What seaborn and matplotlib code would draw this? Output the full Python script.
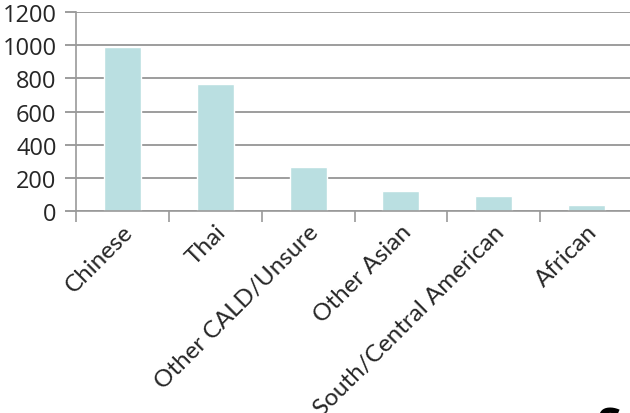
import numpy as np
import pandas as pd
import seaborn as sea
import matplotlib.pyplot as plt
from matplotlib.transforms import ScaledTranslation

categories = ['Chinese', 'Thai', 'Other CALD/Unsure', 'Other Asian',
              'South/Central American', 'African']
values = [990, 765, 265, 122, 90, 35]
y_ticks = [0, 200, 400, 600, 800, 1000, 1200]

df = pd.DataFrame({'group': categories, 'count': values})

sea.set_theme()
sea.set_style('white')
plt.rcParams['font.family'] = ['Open Sans', 'DejaVu Sans']

fig = plt.figure(figsize=(6.3, 4.14), dpi=100)
ax = fig.add_axes([76 / 630, 1 - 212 / 414, (633 - 76) / 630, (212 - 13) / 414])

sea.barplot(data=df, x='group', y='count', color='#badfe1', width=0.4,
            saturation=1, ax=ax)

ax.set_ylim(0, 1200)
ax.set_xlim(-0.5, len(categories) - 0.5)
ax.set_yticks(y_ticks)
ax.set_yticklabels([str(t) for t in y_ticks], fontsize=17)
ax.yaxis.grid(True, color='#8c8c8c', linewidth=1.2)
ax.set_axisbelow(True)

# category boundary ticks on x
ax.set_xticks(np.arange(len(categories)))
ax.set_xticklabels(categories, rotation=45, ha='right', rotation_mode='anchor',
                   fontsize=17.5, family=['Lato', 'DejaVu Sans'])
shift = ScaledTranslation(-6 / 100, -3 / 100, fig.dpi_scale_trans)
for lab in ax.get_xticklabels():
    lab.set_transform(lab.get_transform() + shift)
ax.set_xticks(np.arange(-0.5, len(categories), 1), minor=True)
ax.tick_params(axis='x', which='major', length=0, pad=7)
ax.tick_params(axis='x', which='minor', length=8, width=1.2, color='#9a9a9a',
               direction='out', bottom=True)
ax.tick_params(axis='y', length=8, width=1.2, color='#8c8c8c', direction='out',
               left=True, pad=6)

for s in ['top', 'right']:
    ax.spines[s].set_visible(False)
ax.spines['left'].set_color('#9a9a9a')
ax.spines['left'].set_linewidth(1.2)
ax.spines['bottom'].set_color('#9a9a9a')
ax.spines['bottom'].set_linewidth(1.2)
ax.set_xlabel('')
ax.set_ylabel('')

fig.text(0.948, -0.062, 'Su', fontsize=32, fontweight='bold', color='black')

fig.savefig('out.png', dpi=100)
